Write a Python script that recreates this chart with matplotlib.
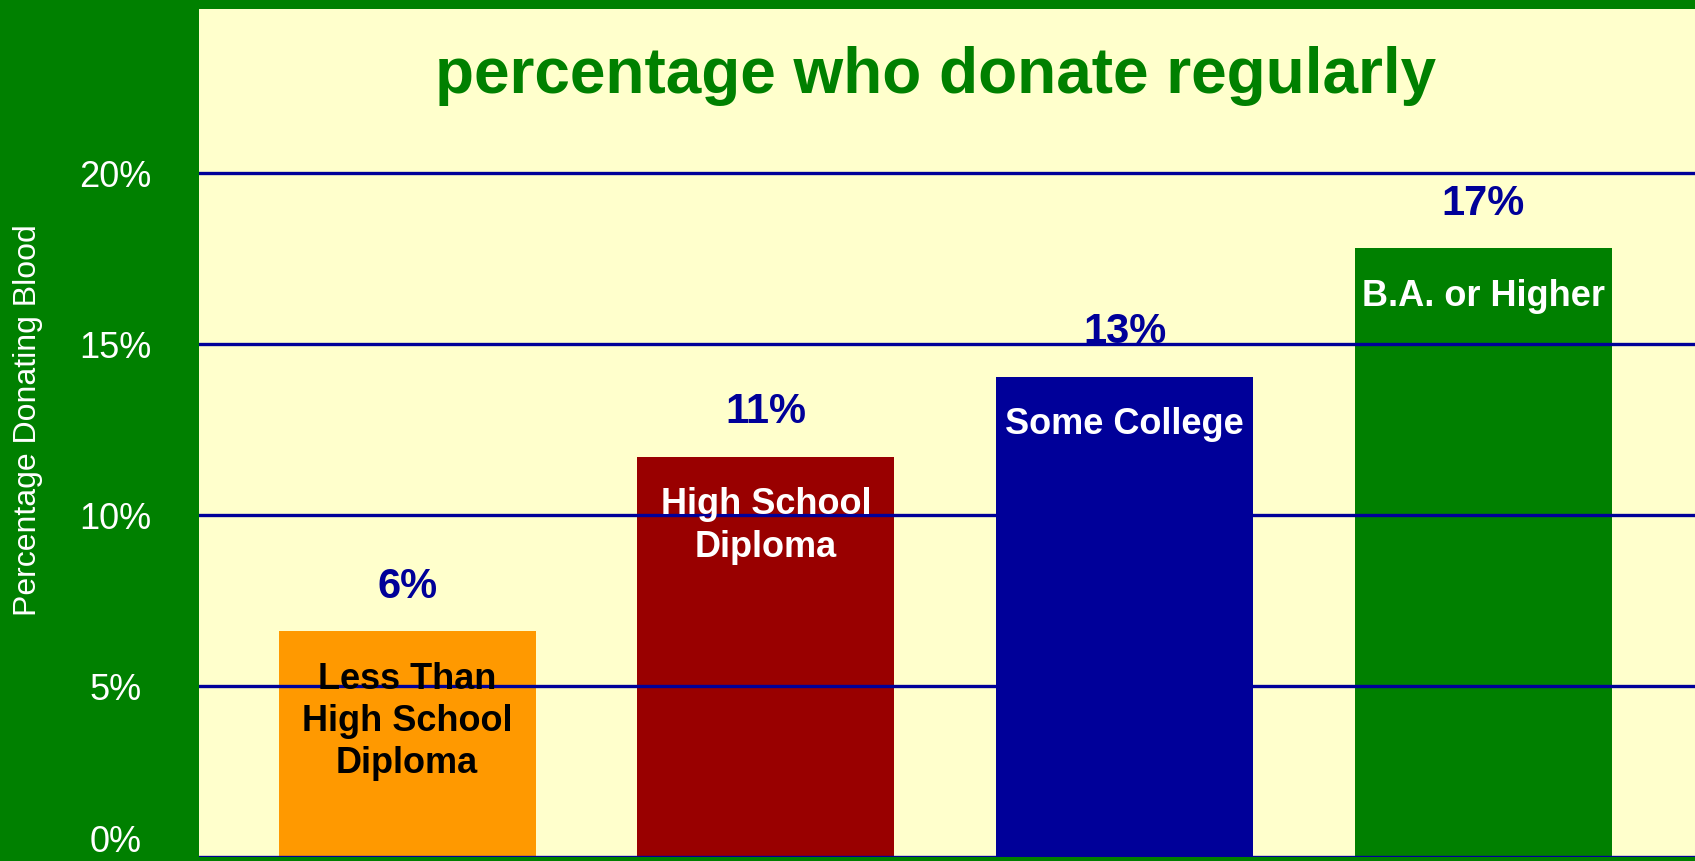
import matplotlib
matplotlib.use("Agg")
import matplotlib.pyplot as plt
import matplotlib.transforms as mtransforms

# Data
categories = ["Less Than\nHigh School\nDiploma", "High School\nDiploma", "Some College", "B.A. or Higher"]
values = [6.6, 11.7, 14.05, 17.8]
value_labels = ["6%", "11%", "13%", "17%"]
bar_colors = ["#FF9900", "#990000", "#000099", "#008000"]
cat_text_colors = ["black", "white", "white", "white"]
yticks = [0, 5, 10, 15, 20]
ytick_labels = ["0%", "5%", "10%", "15%", "20%"]
title = "percentage who donate regularly"
ylabel = "Percentage Donating Blood"

plt.rcParams['font.family'] = ['Liberation Sans', 'DejaVu Sans']

W, H = 1695, 861
fig = plt.figure(figsize=(W / 100, H / 100), dpi=100, facecolor="#008000")
ax = fig.add_axes([199 / W, 4 / H, 1 - 199 / W, (857 - 9) / H])
ax.set_facecolor("#FFFFCC")

x = list(range(len(categories)))
bars = ax.bar(x, values, width=0.716, color=bar_colors, zorder=2)

ax.set_xlim(-0.58, 3.59)
ax.set_ylim(0, 24.8)
ax.set_yticks(yticks)
ax.set_yticklabels(ytick_labels, color="white", fontsize=26, ha="center")
ax.tick_params(axis="y", length=0, pad=60)
ax.set_xticks([])
for s in ax.spines.values():
    s.set_visible(False)
ax.yaxis.grid(True, color="#000099", linewidth=2.4, zorder=1)
ax.set_axisbelow(False)
for gl in ax.get_ygridlines():
    gl.set_zorder(1)

# lift the bottom "0%" label slightly so it stays inside the figure
zero_lbl = ax.get_yticklabels()[0]
zero_lbl.set_transform(zero_lbl.get_transform() +
                       mtransforms.ScaledTranslation(0, 18 / 100, fig.dpi_scale_trans))

for xi, v, lab, cat, tc in zip(x, values, value_labels, categories, cat_text_colors):
    ax.annotate(lab, (xi, v), xytext=(0, 32), textcoords="offset points",
                ha="center", va="center", fontsize=30, fontweight="bold",
                color="#000099", zorder=0.5)
    ax.annotate(cat, (xi, v), xytext=(0, -22), textcoords="offset points",
                ha="center", va="top", fontsize=26, fontweight="bold",
                color=tc, zorder=3, linespacing=1.27, multialignment="center")

fig.text(936 / W, 1 - 93 / H, title, ha="center", va="baseline",
         fontsize=46, fontweight="bold", color="#008000")
fig.text(28 / W, 1 - 420 / H, ylabel, rotation=90, ha="center", va="center",
         fontsize=23, color="white")

fig.savefig("out.png", dpi=100, facecolor=fig.get_facecolor())
